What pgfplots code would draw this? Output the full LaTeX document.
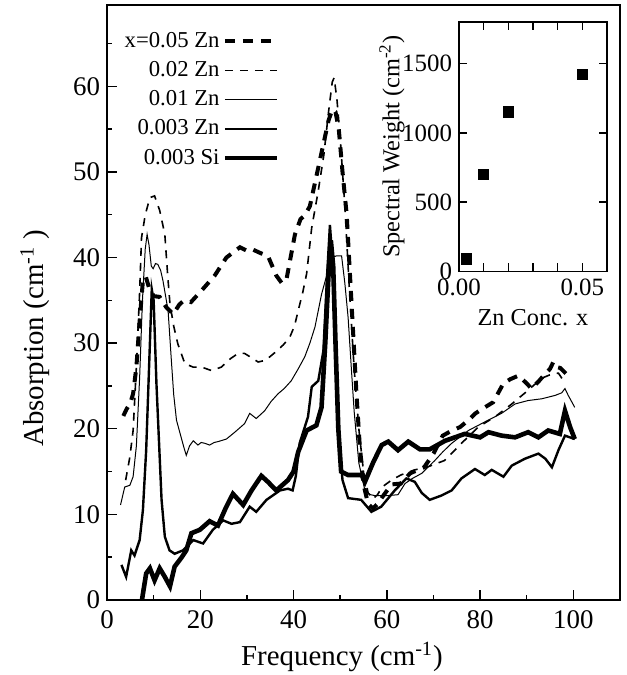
\documentclass[border=0pt]{standalone}
\usepackage{fontspec}
\setmainfont{Liberation Serif}
\usepackage{pgfplots}
\pgfplotsset{compat=1.18}
\usetikzlibrary{calc}

% line styles of the five spectra
\tikzset{
  znfive/.style={black, line width=2bp, dash pattern=on 5bp off 4bp},
  zntwo/.style={black, line width=0.8bp, dash pattern=on 4bp off 3.5bp},
  znone/.style={black, line width=0.5bp},
  znthree/.style={black, line width=1.2bp},
  sithree/.style={black, line width=2.3bp},
}

\begin{document}
\begin{tikzpicture}
\begin{axis}[
  name=main,
  scale only axis, width=256.5bp, height=297.5bp,
  xmin=0, xmax=110, ymin=0, ymax=69.5,
  xtick={0,20,...,100}, minor xtick={10,30,...,90},
  ytick={0,10,...,60}, minor ytick={5,15,...,65},
  tick pos=left, tick align=inside,
  major tick length=5bp, minor tick length=2.5bp,
  every tick/.style={black, line width=0.7bp},
  axis line style={line width=0.8bp},
  /pgf/number format/assume math mode=true,
  tick label style={font=\fontsize{13.5}{14}\selectfont},
  xticklabel style={yshift=-2bp},
  label style={font=\fontsize{14.5}{15}\selectfont},
  xlabel={Frequency (cm\textsuperscript{-1})},
  ylabel={Absorption (cm\textsuperscript{-1} )},
  xlabel style={at={(axis description cs:0.458,0)}, anchor=center, yshift=-28.5bp},
  ylabel style={at={(axis description cs:-0.14,0.44)}, anchor=center},
  legend plot pos=right, legend cell align=right,
  legend image code/.code={\draw[#1] (0bp,0bp) -- (26bp,0bp);},
  legend style={draw=none, fill=none, at={(axis description cs:0.348,0.97)}, anchor=north east,
    font=\fontsize{11.4}{12}\selectfont, row sep=0.6bp,
    nodes={inner sep=1.5bp, text height=8.5bp, text depth=2.5bp}},
]
% x=0.05 Zn
\addplot[znfive] coordinates {
(3.5,21.5)(4.2,22.3)(5,23)(5.6,24.1)(6.3,27.2)(7,32.6)(7.7,37.3)(8.3,37.8)(9,36.5)(10,35.5)
(11.3,35.4)(12.7,34.2)(14.2,33.4)(15.5,34.5)(16.5,35)(18,34.8)(20.2,36.1)(23.1,37.9)(25.6,40)
(28.5,41.2)(30,40.8)(31,41)(33,40.5)(34.5,40.2)(36.3,37.9)(37.5,37)(38.5,37.5)(40.3,42.7)
(41.5,44.5)(42.4,44.9)(43.5,46)(44.5,48.5)(45.5,51)(46.5,53.5)(47.5,56)(48.3,57.3)(49,57)
(49.7,55)(50.5,50)(51.4,45)(52.1,38)(52.8,31)(53.5,24)(54.2,18)(55,13.5)(56,11.2)(57,10.7)
(58,11.2)(59,12)(61,13.5)(63,13.6)(65,14.8)(66.7,15.2)(68,15.5)(70,17.1)(72,19.2)(74,19.8)
(75.7,20.2)(77.5,21)(79,21.8)(81,22.5)(82.8,23.1)(85,25.3)(86.5,25.8)(88.2,26.2)(90,25.3)
(91,24.7)(92.5,25.5)(93.6,26.2)(95,27)(95.7,27.8)(96.5,27.2)(97.2,27.1)(98.5,26.4)
};
\addlegendentry{x=0.05 Zn}
% 0.02 Zn
\addplot[zntwo] coordinates {
(4,14)(4.9,16.7)(5.6,19.8)(6.3,27.2)(7,36)(7.4,42.3)(8.2,45)(9.2,47)(10.2,47.2)(11.3,45.5)
(12.4,42.7)(13,38)(13.5,34.6)(14.3,32)(15.2,29.9)(16.7,27.6)(18.5,27.2)(20.3,27.2)(22.4,26.8)
(24.5,27.2)(26.5,28.2)(28.1,28.8)(29.5,28.8)(31,28.3)(32.4,27.8)(34,28)(36,28.9)(37.8,29.8)
(39.2,30.7)(40.2,32)(41,33.8)(42,36)(42.8,38.1)(43.9,43.5)(45.3,47.8)(46.5,52)(47.5,57)
(48.3,60.5)(48.7,61)(49.3,58.5)(50,54)(51,46)(52,36)(53,27)(54,20)(55,15)(56,12.5)(57,11.8)
(58,12.3)(59,13.2)(61,14)(63,14.6)(66,15.2)(69,15.6)(72.4,16.3)(76,18.3)(79.6,20.2)
(83.2,21.4)(86.8,22.9)(90.3,24.5)(93.2,25.9)(95.4,26.4)(96.8,26.5)(98,25.5)
};
\addlegendentry{0.02 Zn}
% 0.01 Zn
\addplot[znone] coordinates {
(2.9,11.1)(3.8,13.2)(4.9,13.4)(5.6,14.4)(6.3,18)(7,26)(7.6,35)(8.2,41)(8.6,42.7)(9,41.5)
(9.5,39)(9.9,38.7)(10.4,39.3)(10.9,39.2)(11.5,38.5)(12,37.3)(13.1,33.8)(13.8,28)(14.3,24)
(14.9,21)(15.9,19)(16.5,17.8)(17,16.9)(17.7,18)(18.5,18.6)(19.5,18.1)(20.2,18.4)(21,18.3)
(22,18.1)(23,18.4)(23.8,18.5)(25.6,18.8)(27.4,19.6)(29.5,20.6)(30.6,21.8)(32,21.2)(33.8,22.1)
(35.2,23.2)(36.7,24.1)(38,24.7)(39.5,25.6)(41,27)(42.4,28.4)(43.5,30)(44.6,31.9)(46,35.7)
(47.4,38.5)(48.3,40)(49.2,40.2)(50.3,40.2)(51,37)(51.7,33)(52.4,27)(53,22)(54,16)(55.3,12.8)
(56.5,12.3)(57.4,12.2)(60.3,12.2)(62.4,12.3)(63.9,13.6)(65.5,14.2)(67.5,14.8)(70.3,16.3)
(72,17.3)(73.9,18.3)(77.5,19.8)(81,20.8)(84.6,21.8)(87.5,22.9)(90.3,23.3)(93.2,23.5)
(96.1,23.9)(97.5,24.2)(98.2,24.7)(98.9,23.9)(100.3,22.5)
};
\addlegendentry{0.01 Zn}
% 0.003 Zn
\addplot[znthree] coordinates {
(3.1,4.1)(4.1,2.7)(5.2,5.8)(5.9,5.2)(7,7)(7.7,10.5)(8.4,17.5)(9.2,30)(9.6,36.3)(10,35)
(10.6,25.3)(11.7,11.7)(12.4,7.4)(13.4,5.8)(14.5,5.4)(16.3,5.8)(18.5,7)(20.6,6.6)(22.7,8.2)
(24.9,9.3)(26.7,8.9)(28.5,9.1)(30.6,10.9)(32,10.3)(34.2,11.7)(37.1,12.8)(38.8,13)(39.8,12.8)
(40.5,14.5)(41.3,18.3)(43.1,21.4)(43.9,24.9)(45.3,25.6)(46.4,29.1)(47.2,38)(47.8,43.8)
(48.3,40)(49,29)(49.7,19)(50.5,14)(51.7,11.9)(54.5,11.7)(56.7,10.3)(58.8,10.9)(61.7,12.8)
(64.2,14.2)(66,13.8)(67.5,12.5)(69.2,11.7)(71.7,12.2)(73.9,12.8)(76,14.2)(78.9,15.3)(81,14.6)
(82.5,15.2)(85,14.4)(86.8,15.7)(89.6,16.5)(92.5,17.1)(94,16.5)(95.4,15.5)(96.8,17.5)
(98.2,19.2)(100.3,18.8)
};
\addlegendentry{0.003 Zn}
% 0.003 Si
\addplot[sithree] coordinates {
(7.2,-1)(8.4,3.1)(9.2,3.7)(10.2,2.3)(11.3,3.7)(12.4,2.7)(13.5,1.6)(14.5,3.9)(15.9,4.9)
(17,5.8)(18.1,7.8)(19.9,8.2)(22,9.2)(23.8,8.7)(25.5,10.8)(27,12.4)(29.2,11.1)(31,12.8)
(33.1,14.5)(34.5,13.8)(36.3,12.8)(38.8,14)(40,15)(41,17.3)(42.8,19.8)(44.9,20.4)(46,22.5)
(46.8,30)(47.5,38)(48,42)(48.5,39)(49,30)(49.6,20)(50.2,15)(51.7,14.6)(54.6,14.6)(55.3,13.8)
(57.1,16.1)(58.9,18.1)(60.3,18.5)(62.4,17.5)(64.6,18.5)(67.1,17.6)(69.2,17.6)(72.5,18.6)
(76.7,19.4)(80,19)(81.8,19.6)(84.6,19.2)(87.5,19)(90.3,19.6)(92.5,19)(94.6,19.8)(97.1,19.4)
(98.2,22.1)(99.3,20.2)(100.3,18.8)
};
\addlegendentry{0.003 Si}
\end{axis}

% inset: spectral weight against Zn concentration
\begin{axis}[
  at={($(main.south west)+(176bp,164.25bp)$)}, anchor=south west,
  scale only axis, width=74bp, height=124.75bp,
  xmin=0, xmax=0.06, ymin=0, ymax=1800,
  xtick={0,0.05}, minor xtick={0.01,0.02,0.03,0.04},
  ytick={0,500,1000,1500},
  scaled x ticks=false,
  tick align=inside, xticklabel pos=left, yticklabel pos=left,
  major tick length=4bp, minor tick length=4bp,
  every tick/.style={black, line width=0.7bp},
  axis line style={line width=0.8bp},
  /pgf/number format/assume math mode=true,
  /pgf/number format/1000 sep={},
  x tick label style={/pgf/number format/fixed, /pgf/number format/fixed zerofill,
    /pgf/number format/precision=2},
  tick label style={font=\fontsize{12.5}{13}\selectfont},
  label style={font=\fontsize{12.2}{13}\selectfont},
  xlabel={Zn Conc. x},
  ylabel={Spectral Weight (cm\textsuperscript{-2})},
  xlabel style={at={(axis description cs:0.5,0)}, anchor=center, yshift=-23bp},
  ylabel style={at={(axis description cs:-0.453,0.5)}, anchor=center},
]
\addplot[only marks, mark=square*, mark size=2.6bp, black] coordinates {
(0.003,90)(0.01,700)(0.02,1150)(0.05,1420)
};
\end{axis}

\pgfresetboundingbox
\path (main.south west) ++(-53.5bp,-37.5bp) rectangle ++(313.5bp,337.5bp);
\end{tikzpicture}
\end{document}
